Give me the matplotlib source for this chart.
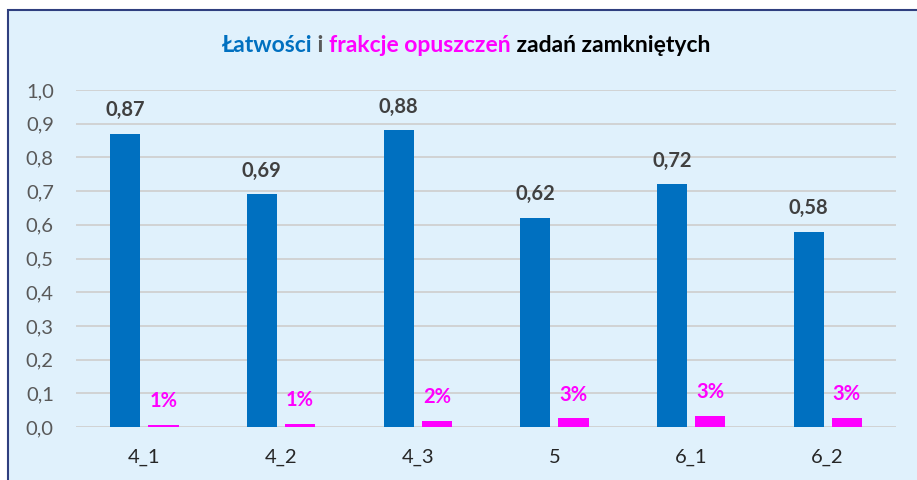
import matplotlib
matplotlib.use("Agg")
import matplotlib.pyplot as plt
import numpy as np
from matplotlib.patches import Rectangle

categories = ["4_1", "4_2", "4_3", "5", "6_1", "6_2"]
latwosc = [0.87, 0.69, 0.88, 0.62, 0.72, 0.58]
opuszczenia = [0.006, 0.010, 0.018, 0.026, 0.033, 0.028]
opuszczenia_labels = ["1%", "1%", "2%", "3%", "3%", "3%"]

blue = "#0070c0"
magenta = "#ff00ff"
bg = "#e0f1fc"

plt.rcParams['font.family'] = ['Lato', 'DejaVu Sans']

fig = plt.figure(figsize=(9.17, 4.8), dpi=100)
fig.patch.set_facecolor("white")
# panel with dark border
fig.patches.append(Rectangle((8 / 917, -0.05), 1.0, 1 - 10 / 480 + 0.05,
                             transform=fig.transFigure, facecolor=bg,
                             edgecolor="#2f3f7f", linewidth=1.5, zorder=-5))

ax = fig.add_axes([76 / 917, 1 - 427 / 480, 820 / 917, 337 / 480])
ax.set_facecolor("none")
ax.set_zorder(2)

x = np.arange(len(categories))
w = 0.22
off = 0.14
ax.bar(x - off, latwosc, w, color=blue, zorder=3)
ax.bar(x + off, opuszczenia, w, color=magenta, zorder=3)

for xi, v in zip(x, latwosc):
    ax.annotate(f"{v:.2f}".replace(".", ","), (xi - off, v), xytext=(0, 17),
                textcoords="offset points", ha="center", va="center",
                fontsize=14.5, fontweight="bold", color="#404040")
for xi, v, lab in zip(x, opuszczenia, opuszczenia_labels):
    ax.annotate(lab, (xi + off, v), xytext=(0, 17),
                textcoords="offset points", ha="center", va="center",
                fontsize=14.5, fontweight="bold", color=magenta)

ax.set_xlim(-0.5, len(categories) - 0.5)
ax.set_ylim(0, 1.0)
ax.set_yticks(np.arange(0, 1.01, 0.1))
ax.set_yticklabels([f"{t:.1f}".replace(".", ",") for t in np.arange(0, 1.01, 0.1)],
                   fontsize=14.5, color="#595959")
ax.set_xticks(x)
ax.set_xticklabels(categories, fontsize=14.5, color="#262626")
ax.tick_params(axis="both", length=0)
ax.tick_params(axis="x", pad=16)
ax.tick_params(axis="y", pad=16)
ax.grid(axis="y", color="#d0d0d0", linewidth=1.3, zorder=0)
for s in ax.spines.values():
    s.set_visible(False)

# multi-colour title
parts = [("Łatwości", blue), (" i ", "#595959"), ("frakcje opuszczeń", magenta),
         (" zadań zamkniętych", "black")]
renderer = fig.canvas.get_renderer()
texts = []
widths = []
for s, c in parts:
    t = fig.text(0, 1 - 45 / 480, s, color=c, fontsize=16.5, fontweight="bold",
                 va="center", ha="left")
    bb = t.get_window_extent(renderer)
    texts.append(t)
    widths.append(bb.width)
total = sum(widths)
start = 466 - total / 2
for t, wd in zip(texts, widths):
    t.set_x(start / fig.bbox.width)
    start += wd

fig.savefig("out.png", dpi=100)
